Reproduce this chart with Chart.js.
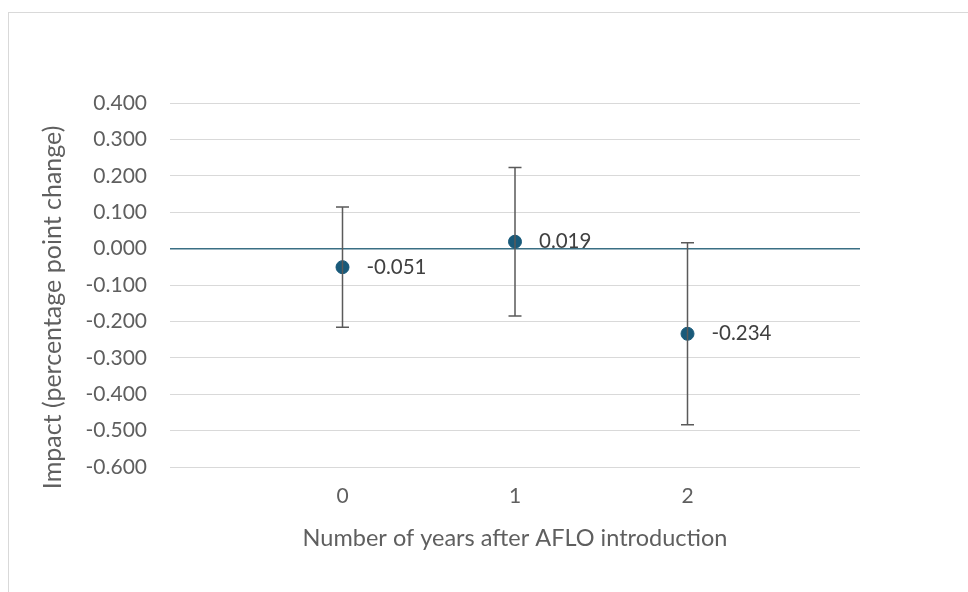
<!DOCTYPE html>
<html>
<head>
<meta charset="utf-8">
<script src="https://cdn.jsdelivr.net/npm/chart.js@4.4.1/dist/chart.umd.min.js"></script>
<style>
  html, body { margin: 0; padding: 0; background: #fff; }
  #wrap { position: relative; width: 968px; height: 592px; }
  #frame { position: absolute; left: 8px; top: 12px; right: 0; bottom: 0;
           border-top: 1px solid #d9d9d9; border-left: 1px solid #d9d9d9; }
  canvas { position: absolute; left: 0; top: 0; }
</style>
</head>
<body>
<div id="wrap">
  <div id="frame"></div>
  <canvas id="chart" width="968" height="592"></canvas>
</div>
<script>
// data
const years = [0, 1, 2];
const impact = [-0.051, 0.019, -0.234];
const lower = [-0.216, -0.185, -0.484];
const upper = [0.114, 0.223, 0.016];
const yTicks = [0.4, 0.3, 0.2, 0.1, 0, -0.1, -0.2, -0.3, -0.4, -0.5, -0.6];

const textGrey = '#5f5f5f';
const fontName = 'Lato, "Open Sans", sans-serif';

// error bars, drawn through the scales
const errorBars = {
    id: 'errorBars',
    afterDatasetsDraw(chart) {
        const ctx = chart.ctx;
        const xs = chart.scales.x, ys = chart.scales.y;
        ctx.save();
        ctx.strokeStyle = '#5a5a5a';
        ctx.lineWidth = 1.5;
        for (let i = 0; i < years.length; i++) {
            const x = xs.getPixelForValue(years[i]);
            const yt = ys.getPixelForValue(upper[i]);
            const yb = ys.getPixelForValue(lower[i]);
            ctx.beginPath();
            ctx.moveTo(x, yt); ctx.lineTo(x, yb);
            ctx.moveTo(x - 6.5, yt); ctx.lineTo(x + 6.5, yt);
            ctx.moveTo(x - 6.5, yb); ctx.lineTo(x + 6.5, yb);
            ctx.stroke();
        }
        ctx.restore();
    }
};

// value labels to the right of each point
const valueLabels = {
    id: 'valueLabels',
    afterDraw(chart) {
        const ctx = chart.ctx;
        const xs = chart.scales.x, ys = chart.scales.y;
        ctx.save();
        ctx.fillStyle = '#404040';
        ctx.font = '20.5px ' + fontName;
        ctx.textAlign = 'left';
        ctx.textBaseline = 'middle';
        for (let i = 0; i < years.length; i++) {
            ctx.fillText(impact[i].toFixed(3), xs.getPixelForValue(years[i]) + 24, ys.getPixelForValue(impact[i]));
        }
        ctx.restore();
    }
};

new Chart(document.getElementById('chart'), {
    type: 'scatter',
    data: {
        datasets: [{
            data: years.map((y, i) => ({ x: y, y: impact[i] })),
            backgroundColor: '#195a7a',
            borderColor: '#195a7a',
            pointRadius: 6.5,
            pointHoverRadius: 6.5
        }]
    },
    options: {
        responsive: false,
        animation: false,
        layout: { padding: { left: 38, right: 108, top: 103, bottom: 39 } },
        plugins: { legend: { display: false }, tooltip: { enabled: false } },
        scales: {
            x: {
                type: 'linear',
                min: -1,
                max: 3,
                afterBuildTicks: s => { s.ticks = years.map(v => ({ value: v })); },
                afterFit: s => { s.height = 86; },
                grid: { display: false, drawTicks: false },
                border: { display: false },
                ticks: { color: textGrey, font: { family: fontName, size: 21 }, padding: 17 },
                title: {
                    display: true,
                    text: 'Number of years after AFLO introduction',
                    color: textGrey,
                    font: { family: fontName, size: 23.5 },
                    padding: { top: 0, bottom: 0 }
                }
            },
            y: {
                min: -0.6,
                max: 0.4,
                afterBuildTicks: s => { s.ticks = yTicks.map(v => ({ value: v })); },
                afterFit: s => { s.width = 132; },
                grid: {
                    drawTicks: false,
                    color: c => Math.abs(c.tick.value) < 1e-9 ? '#3a6f84' : '#d9d9d9',
                    lineWidth: c => Math.abs(c.tick.value) < 1e-9 ? 1.5 : 1
                },
                border: { display: false },
                ticks: {
                    color: textGrey,
                    font: { family: fontName, size: 21 },
                    padding: 23,
                    callback: v => v.toFixed(3)
                },
                title: {
                    display: true,
                    // trailing spaces nudge the rotated title down a little
                    text: 'Impact (percentage point change)       ',
                    color: textGrey,
                    font: { family: fontName, size: 25 },
                    padding: { top: 0, bottom: 0 }
                }
            }
        }
    },
    plugins: [errorBars, valueLabels]
});
</script>
</body>
</html>
